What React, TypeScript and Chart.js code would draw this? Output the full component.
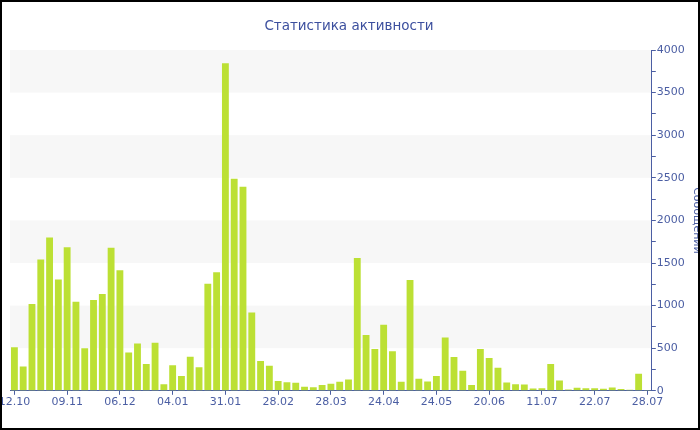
import React, { useEffect, useRef } from 'react';
import { Chart, registerables } from 'chart.js';

Chart.register(...registerables);

const chartTitle = 'Статистика активности';
const axisTitle = 'Сообщений';

const tickLabels = ['12.10', '09.11', '06.12', '04.01', '31.01', '28.02', '28.03', '24.04', '24.05', '20.06', '11.07', '22.07', '28.07'];

const messages = [
  510, 285, 1020, 1540, 1800, 1305, 1685, 1045, 500, 1065,
  1135, 1680, 1415, 450, 555, 315, 565, 78, 300, 175,
  400, 275, 1255, 1390, 3845, 2490, 2395, 920, 350, 295,
  115, 100, 95, 47, 43, 67, 82, 106, 133, 1560,
  655, 490, 775, 465, 106, 1300, 141, 110, 173, 627,
  396, 235, 67, 490, 384, 271, 98, 78, 74, 27,
  31, 314, 121, 16, 35, 31, 31, 24, 39, 20,
  12, 200, 10,
];

const categories = messages.map((_, i) => (i % 6 === 0 ? tickLabels[i / 6] : ''));

const bands = [[500, 1000], [1500, 2000], [2500, 3000], [3500, 4000]];

const AXIS = '#4b5ea3';
const TITLE = '#3c4f9e';
const BAR = '#bce034';

const bandPlugin = {
  id: 'bands',
  beforeDraw(chart: any) {
    const { ctx, chartArea, scales } = chart;
    const y = scales.y;
    ctx.save();
    ctx.fillStyle = '#f7f7f7';
    for (const [a, b] of bands) {
      const t = y.getPixelForValue(b);
      const btm = y.getPixelForValue(a);
      ctx.fillRect(chartArea.left, t, chartArea.right - chartArea.left, btm - t);
    }
    ctx.restore();
  },
};

export default function App() {
  const ref = useRef<HTMLCanvasElement | null>(null);
  useEffect(() => {
    document.body.style.margin = '0';
    Chart.defaults.font.family = 'DejaVu Sans';
    const chart = new Chart(ref.current as HTMLCanvasElement, {
      type: 'bar',
      data: {
        labels: categories,
        datasets: [
          {
            label: axisTitle,
            data: messages,
            backgroundColor: BAR,
            borderWidth: 0,
            barPercentage: 0.78,
            categoryPercentage: 1,
          },
        ],
      },
      options: {
        animation: false,
        responsive: false,
        maintainAspectRatio: false,
        layout: { padding: { left: 40, right: 0, top: 50, bottom: 20 } },
        plugins: {
          legend: { display: false },
          tooltip: { enabled: false },
          title: { display: false },
        },
        scales: {
          x: {
            offset: true,
            grid: {
              drawOnChartArea: false,
              offset: false,
              tickLength: 4,
              tickColor: (c: any) => (c.index % 6 === 0 ? AXIS : 'rgba(0,0,0,0)'),
            },
            border: { color: AXIS },
            ticks: {
              autoSkip: false,
              maxRotation: 0,
              minRotation: 0,
              color: AXIS,
              padding: 1,
              font: { size: 11 },
            },
          },
          y: {
            position: 'right',
            min: 0,
            max: 4000,
            grid: { drawOnChartArea: false, tickLength: 4, color: AXIS },
            border: { color: AXIS },
            ticks: {
              stepSize: 250,
              color: AXIS,
              padding: 1,
              font: { size: 11 },
              callback: (v: any) => (Number(v) % 500 === 0 ? String(v) : ''),
            },
            title: {
              display: true,
              text: axisTitle,
              color: AXIS,
              font: { size: 11 },
              padding: { top: 7, bottom: 4 },
            },
          },
        },
      },
      plugins: [bandPlugin],
    });
    return () => chart.destroy();
  }, []);

  return (
    <div style={{ position: 'absolute', left: 0, top: 0, width: 700, height: 430, overflow: 'hidden', background: '#fff' }}>
      <div style={{ position: 'absolute', left: -30, top: 0, width: 740, height: 430 }}>
        <canvas ref={ref} width={740} height={430} style={{ width: 740, height: 430, display: 'block' }} />
      </div>
      <div
        style={{
          position: 'absolute',
          left: 0,
          top: 16,
          width: 698,
          textAlign: 'center',
          fontFamily: 'DejaVu Sans',
          fontSize: 13.5,
          lineHeight: '18px',
          color: TITLE,
        }}
      >
        {chartTitle}
      </div>
      <div
        style={{
          position: 'absolute',
          left: 0,
          top: 0,
          width: 700,
          height: 430,
          boxSizing: 'border-box',
          border: '2px solid #000',
          pointerEvents: 'none',
        }}
      />
    </div>
  );
}
